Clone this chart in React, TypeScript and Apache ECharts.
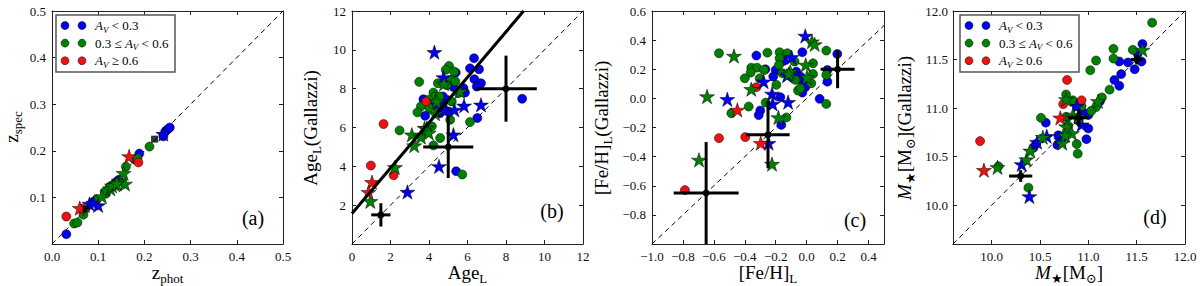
import React, { useEffect, useRef } from 'react';
import * as echarts from 'echarts';

const FONT = "'Liberation Serif','DejaVu Serif','Times New Roman',serif";
const BLUE = '#0000ee';
const GREEN = '#008000';
const RED = '#ee1111';
const STAR = 'path://M0,-1L0.2245,-0.309L0.951,-0.309L0.363,0.118L0.588,0.809L0,0.382L-0.588,0.809L-0.363,0.118L-0.951,-0.309L-0.2245,-0.309Z';

// ---------- Panel (a): z_spec vs z_phot ----------
const aBlueCircle = [[0.031,0.021],[0.09,0.091],[0.14,0.134],[0.145,0.138],[0.189,0.194],[0.241,0.231],[0.245,0.241],[0.25,0.246],[0.255,0.25]];
const aBlueStar = [[0.081,0.086],[0.1,0.083],[0.09,0.088],[0.241,0.236]];
const aGreenCircle = [[0.048,0.044],[0.055,0.046],[0.068,0.063],[0.097,0.096],[0.117,0.108],[0.132,0.124],[0.125,0.123],[0.16,0.166],[0.178,0.182],[0.185,0.184],[0.211,0.209],[0.114,0.112]];
const aGreenStar = [[0.108,0.102],[0.126,0.119],[0.137,0.127],[0.147,0.134],[0.158,0.129],[0.155,0.152],[0.13,0.125],[0.14,0.13]];
const aRedCircle = [[0.031,0.059],[0.065,0.076],[0.187,0.175]];
const aRedStar = [[0.06,0.077],[0.167,0.188]];
const aSquares = [[0.074,0.075],[0.222,0.225]];

// ---------- Panel (b): Age ----------
const bBlueCircle = [[6.34,9.57],[6.13,9.05],[6.6,9.0],[5.39,8.83],[6.36,8.49],[6.7,8.28],[6.48,8.11],[5.79,8.03],[5.27,8.08],[3.71,7.46],[4.72,7.6],[4.92,7.43],[4.23,7.12],[4.72,7.05],[5.0,6.83],[4.58,6.74],[3.8,6.6],[6.51,6.49],[8.84,7.48],[5.41,3.75],[5.87,7.8],[4.49,7.38]];
const bBlueStar = [[4.28,9.88],[4.75,8.58],[4.75,6.91],[5.32,6.91],[5.82,7.12],[6.7,7.17],[5.27,5.63],[4.52,4.0],[2.88,2.68]];
const bGreenCircle = [[5.04,9.17],[4.87,8.97],[5.3,8.88],[3.49,8.35],[4.46,8.28],[5.13,8.45],[5.37,8.37],[4.92,8.18],[4.23,7.8],[4.32,7.6],[5.53,7.77],[5.18,7.34],[3.97,7.43],[3.58,7.09],[4.02,7.0],[3.4,6.78],[5.1,6.4],[6.13,6.28],[4.15,6.06],[2.47,5.85],[3.89,5.8],[4.58,5.46],[4.23,5.08],[5.73,3.58],[4.54,7.6]];
const bGreenStar = [[3.77,5.97],[3.11,5.63],[3.58,5.51],[3.23,5.07],[3.89,5.97],[3.99,5.72],[4.32,6.71],[4.4,7.34],[4.78,8.25],[5.61,7.86],[2.23,3.95],[0.95,2.2]];
const bRedCircle = [[1.64,6.18],[0.98,4.04],[2.16,3.54],[3.85,7.34]];
const bRedStar = [[1.04,3.18],[0.86,2.67]];
const bErr = [[1.5,1.5,0.5,0.6],[5,5,1.3,1.6],[8,8,1.6,1.7]];
const bFitIntercept = 1.57;
const bFitSlope = 1.17;

// ---------- Panel (c): [Fe/H] ----------
const cBlueCircle = [[-0.325,0.294],[-0.028,0.317],[-0.2,0.195],[-0.149,0.257],[-0.267,0.2],[-0.216,0.15],[-0.067,0.184],[-0.04,0.15],[-0.056,0.134],[-0.02,0.093],[-0.009,0.077],[-0.028,0.04],[-0.17,0.008],[-0.3,-0.083],[-0.31,-0.115],[-0.164,-0.182],[0.084,-0.003],[0.134,0.115],[0.134,0.195],[0.198,0.305]];
const cBlueStar = [[-0.009,0.429],[-0.513,-0.006],[-0.278,0.115],[-0.224,0.031],[-0.22,-0.038],[-0.12,-0.026],[-0.097,0.282],[-0.127,0.157],[-0.246,-0.307]];
const cGreenCircle = [[-0.567,0.31],[-0.254,0.314],[-0.175,0.317],[-0.125,0.31],[-0.358,0.211],[-0.321,0.211],[-0.362,0.177],[-0.276,0.195],[-0.4,0.138],[-0.304,0.138],[-0.175,0.275],[-0.179,0.23],[-0.157,0.173],[-0.078,0.253],[-0.073,0.127],[0.041,0.241],[0.041,0.168],[0.03,0.104],[-0.056,0.054],[-0.041,0.07],[0.127,0.328],[0.127,0.161],[0.127,-0.038],[-0.375,-0.056],[-0.265,-0.029],[-0.487,-0.102],[-0.131,-0.131],[-0.196,0.093]];
const cGreenStar = [[-0.47,0.291],[0.034,0.39],[0.052,0.371],[-0.106,0.184],[-0.116,0.168],[-0.006,0.23],[0.002,0.145],[-0.358,0.063],[-0.644,0.013],[-0.183,-0.131],[-0.696,-0.422],[-0.224,-0.451]];
const cRedCircle = [[-0.325,0.077],[-0.567,-0.273],[-0.397,-0.266],[-0.787,-0.63]];
const cRedStar = [[-0.448,-0.079],[-0.297,-0.307]];
const cErr = [[-0.65,-0.65,0.21,0.35],[-0.25,-0.25,0.14,0.23],[0.2,0.2,0.11,0.13]];

// ---------- Panel (d): stellar mass ----------
const dBlueCircle = [[11.56,11.66],[11.51,11.56],[11.55,11.48],[11.48,11.4],[11.41,11.47],[11.32,11.48],[11.34,11.35],[11.27,11.29],[11.32,11.23],[11.12,11.07],[11.0,10.93],[10.94,10.96],[11.0,10.79],[10.98,10.68],[10.88,11.02],[10.9,10.88],[10.56,10.85],[10.69,10.72],[10.68,10.62],[10.46,10.63],[10.43,10.59]];
const dBlueStar = [[10.88,11.02],[10.93,10.83],[10.47,10.65],[10.57,10.71],[10.31,10.42],[10.39,10.09],[10.72,10.67]];
const dGreenCircle = [[11.66,11.88],[11.26,11.61],[11.26,11.51],[11.46,11.6],[11.08,11.49],[11.02,11.39],[11.22,11.19],[11.14,11.11],[11.08,11.01],[11.03,10.97],[10.77,11.14],[10.84,11.08],[10.51,10.9],[10.77,10.91],[10.88,10.63],[10.89,10.53],[10.79,10.82],[10.38,10.18],[10.07,10.4],[10.93,11.02]];
const dGreenStar = [[10.06,10.39],[10.36,10.47],[10.4,10.56],[10.53,10.7],[10.73,10.64],[10.77,10.81],[10.83,10.74],[10.76,10.72],[10.84,10.93],[10.77,11.09],[10.9,10.91],[11.1,11.07],[11.56,11.6]];
const dRedCircle = [[9.88,10.66],[10.78,11.29],[10.74,11.04],[10.93,11.08]];
const dRedStar = [[9.92,10.36],[10.71,10.9]];
const dErr = [[10.3,10.3,0.12,0.06],[10.9,10.9,0.11,0.09],[11.5,11.5,0.06,0.05]];

// ---------- Axes ----------
const aTicks = [0, 0.1, 0.2, 0.3, 0.4, 0.5];
const aYLabels = [0.1, 0.2, 0.3, 0.4, 0.5];
const bTicks = [0, 2, 4, 6, 8, 10, 12];
const bYLabels = [2, 4, 6, 8, 10, 12];
const cXTicks = [-1.0, -0.8, -0.6, -0.4, -0.2, 0.0, 0.2, 0.4];
const cYTicks = [-1.0, -0.8, -0.6, -0.4, -0.2, 0.0, 0.2, 0.4, 0.6];
const cYLabels = [-0.8, -0.6, -0.4, -0.2, 0.0, 0.2, 0.4, 0.6];
const dTicks = [10.0, 10.5, 11.0, 11.5, 12.0];

const fmt1 = (v: number) => v.toFixed(1).replace('-', '\u2212');
const fmt0 = (v: number) => String(Math.round(v));

const GRID_TOP = 11;
const GRID_H = 233;

const panels = [
  { left: 52, width: 231, xMin: 0, xMax: 0.5, yMin: 0, yMax: 0.5, xTicks: aTicks, yTicks: aTicks, xLabels: aTicks, yLabels: aYLabels, fmt: fmt1, yMargin: 6 },
  { left: 352, width: 231, xMin: 0, xMax: 12, yMin: 0, yMax: 12, xTicks: bTicks, yTicks: bTicks, xLabels: bTicks, yLabels: bYLabels, fmt: fmt0, yMargin: 6 },
  { left: 652, width: 232, xMin: -1.0, xMax: 0.5, yMin: -1.0, yMax: 0.6, xTicks: cXTicks, yTicks: cYTicks, xLabels: cXTicks, yLabels: cYLabels, fmt: fmt1, yMargin: 6 },
  { left: 953, width: 232, xMin: 9.6, xMax: 12.0, yMin: 9.6, yMax: 12.0, xTicks: dTicks, yTicks: dTicks, xLabels: dTicks, yLabels: dTicks, fmt: fmt1, yMargin: 5 },
];

const panelScatter = [
  [aBlueCircle, aBlueStar, aGreenCircle, aGreenStar, aRedCircle, aRedStar],
  [bBlueCircle, bBlueStar, bGreenCircle, bGreenStar, bRedCircle, bRedStar],
  [cBlueCircle, cBlueStar, cGreenCircle, cGreenStar, cRedCircle, cRedStar],
  [dBlueCircle, dBlueStar, dGreenCircle, dGreenStar, dRedCircle, dRedStar],
];
const panelErr = [null, bErr, cErr, dErr];

function buildOption() {
  const grid: any[] = [];
  const xAxis: any[] = [];
  const yAxis: any[] = [];
  const series: any[] = [];
  const lineCol = '#222';
  panels.forEach((p, i) => {
    grid.push({ left: p.left, top: GRID_TOP, width: p.width, height: GRID_H });
    const base = (min: number, max: number, ticks: number[]) => ({
      type: 'value', gridIndex: i, min, max, scale: true,
      splitLine: { show: false },
      axisLine: { show: true, onZero: false, lineStyle: { color: lineCol, width: 1 } },
      axisTick: { show: true, inside: true, length: 4, customValues: ticks, lineStyle: { color: lineCol, width: 1 } },
    });
    xAxis.push({ ...base(p.xMin, p.xMax, p.xTicks), position: 'bottom',
      axisLabel: { customValues: p.xLabels, formatter: p.fmt, fontFamily: FONT, fontSize: 13, color: '#111', margin: 6 } });
    xAxis.push({ ...base(p.xMin, p.xMax, p.xTicks), position: 'top', axisLabel: { show: false } });
    yAxis.push({ ...base(p.yMin, p.yMax, p.yTicks), position: 'left',
      axisLabel: { customValues: p.yLabels, formatter: p.fmt, fontFamily: FONT, fontSize: 13, color: '#111', margin: p.yMargin } });
    yAxis.push({ ...base(p.yMin, p.yMax, p.yTicks), position: 'right', axisLabel: { show: false } });

    const xi = 2 * i, yi = 2 * i;
    const lo = Math.max(p.xMin, p.yMin), hi = Math.min(p.xMax, p.yMax);
    series.push({ type: 'line', xAxisIndex: xi, yAxisIndex: yi, data: [[lo, lo], [hi, hi]], symbol: 'none', silent: true,
      lineStyle: { color: '#000', width: 1, type: [5, 4] }, z: 1 });

    const sets = panelScatter[i];
    const cols = [BLUE, BLUE, GREEN, GREEN, RED, RED];
    sets.forEach((d, k) => {
      const star = k % 2 === 1;
      series.push({ type: 'scatter', xAxisIndex: xi, yAxisIndex: yi, data: d, silent: true,
        symbol: star ? STAR : 'circle', symbolSize: star ? [15, 14.3] : 9,
        itemStyle: { color: cols[k], borderColor: '#000', borderWidth: 0.5, opacity: 1 }, z: star ? 3 : 2 });
    });

    if (i === 0) {
      series.push({ type: 'scatter', xAxisIndex: xi, yAxisIndex: yi, data: aSquares, silent: true, symbol: 'rect', symbolSize: 7,
        itemStyle: { color: '#000' }, z: 4 });
    }
    if (i === 1) {
      const xEnd = (p.yMax - bFitIntercept) / bFitSlope;
      series.push({ type: 'line', xAxisIndex: xi, yAxisIndex: yi, data: [[0, bFitIntercept], [xEnd, p.yMax]], symbol: 'none', silent: true,
        lineStyle: { color: '#000', width: 3 }, z: 4 });
    }
    const err = panelErr[i];
    if (err) {
      series.push({ type: 'custom', xAxisIndex: xi, yAxisIndex: yi, data: err, clip: true, silent: true, z: 5,
        renderItem: (params: any, api: any) => {
          const x = api.value(0), y = api.value(1), ex = api.value(2), ey = api.value(3);
          const a0 = api.coord([x - ex, y]), a1 = api.coord([x + ex, y]);
          const b0 = api.coord([x, y - ey]), b1 = api.coord([x, y + ey]);
          const c = api.coord([x, y]);
          const st = { stroke: '#000', lineWidth: 3 };
          return { type: 'group', children: [
            { type: 'line', shape: { x1: a0[0], y1: a0[1], x2: a1[0], y2: a1[1] }, style: st },
            { type: 'line', shape: { x1: b0[0], y1: b0[1], x2: b1[0], y2: b1[1] }, style: st },
            { type: 'circle', shape: { cx: c[0], cy: c[1], r: 3.5 }, style: { fill: '#000' } },
          ] };
        } });
    }
  });

  // ----- graphics: axis titles, tags, legends -----
  const richT = {
    m: { fontSize: 19, fontFamily: FONT, fill: '#000', verticalAlign: 'top' },
    mi: { fontSize: 19, fontFamily: FONT, fontStyle: 'italic', fill: '#000', verticalAlign: 'top' },
    s: { fontSize: 13, fontFamily: FONT, fill: '#000', verticalAlign: 'top', padding: [9, 0, 0, 0] },
  };
  const title = (x: number, y: number, text: string, rot: boolean) => ({
    type: 'text', x, y, rotation: rot ? Math.PI / 2 : 0, z: 50,
    style: { text, rich: richT, align: 'center', verticalAlign: 'middle', fontFamily: FONT, fontSize: 19, fill: '#000' },
  });
  const cx = (p: any) => p.left + p.width / 2;
  const elements: any[] = [
    title(cx(panels[0]), 274, '{m|z}{s|phot}', false),
    title(13, 127, '{m|z}{s|spec}', true),
    title(cx(panels[1]), 274, '{m|Age}{s|L}', false),
    title(312, 128, '{m|Age}{s|L}{m|(Gallazzi)}', true),
    title(cx(panels[2]), 274, '{m|[Fe/H]}{s|L}', false),
    title(603, 128, '{m|[Fe/H]}{s|L}{m|(Gallazzi)}', true),
    title(cx(panels[3]), 274, '{mi|M}{s|\u2605}{m|[M}{s|\u2299}{m|]}', false),
    title(906, 128, '{mi|M}{s|\u2605}{m|[M}{s|\u2299}{m|](Gallazzi)}', true),
  ];
  const tags = [['(a)', 253, 218], ['(b)', 552, 211], ['(c)', 855, 220], ['(d)', 1155, 217]];
  tags.forEach(([t, x, y]) => elements.push({ type: 'text', x, y, z: 50,
    style: { text: t, align: 'center', verticalAlign: 'middle', fontFamily: FONT, fontSize: 20, fill: '#000' } }));

  const richL = {
    t: { fontSize: 13, fontFamily: FONT, fill: '#000', verticalAlign: 'top' },
    i: { fontSize: 13, fontFamily: FONT, fontStyle: 'italic', fill: '#000', verticalAlign: 'top' },
    is: { fontSize: 9, fontFamily: FONT, fontStyle: 'italic', fill: '#000', verticalAlign: 'top', padding: [6, 0, 0, 0] },
  };
  const legRows = [
    { color: BLUE, text: '{i|A}{is|V}{t| < 0.3}' },
    { color: GREEN, text: '{t|0.3 \u2264 }{i|A}{is|V}{t| < 0.6}' },
    { color: RED, text: '{i|A}{is|V}{t| \u2265 0.6}' },
  ];
  const legend = (x0: number) => {
    elements.push({ type: 'rect', z: 60, shape: { x: x0, y: 15, width: 119, height: 57 }, style: { fill: '#fff', stroke: '#555', lineWidth: 1.5 } });
    legRows.forEach((r, k) => {
      const cy = 25.5 + k * 17.6;
      [9, 26].forEach((dx) => elements.push({ type: 'circle', z: 61, shape: { cx: x0 + dx, cy, r: 4 }, style: { fill: r.color, stroke: '#000', lineWidth: 0.5 } }));
      elements.push({ type: 'text', z: 61, x: x0 + 39, y: cy + 1, style: { text: r.text, rich: richL, align: 'left', verticalAlign: 'middle', fontFamily: FONT, fontSize: 13, fill: '#000' } });
    });
  };
  legend(56);
  legend(960);

  return { animation: false, backgroundColor: '#fff', grid, xAxis, yAxis, series, graphic: { elements } };
}

export default function App() {
  const ref = useRef<HTMLDivElement>(null);
  useEffect(() => {
    if (!ref.current) return;
    const chart = echarts.init(ref.current, null, { renderer: 'svg' });
    chart.setOption(buildOption() as any);
    return () => chart.dispose();
  }, []);
  return <div ref={ref} style={{ position: 'absolute', left: 0, top: 0, width: 1200, height: 286, background: '#fff' }} />;
}
